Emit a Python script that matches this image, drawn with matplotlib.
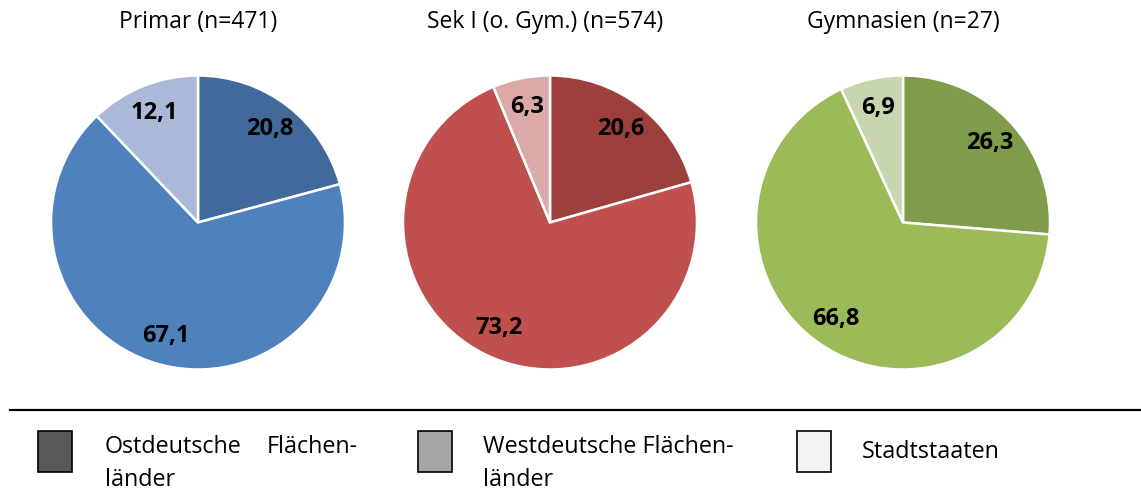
import matplotlib
matplotlib.use("Agg")
import matplotlib.pyplot as plt
from matplotlib.patches import Rectangle
from matplotlib.lines import Line2D

plt.rcParams['font.family'] = ['Open Sans', 'DejaVu Sans']

titles = ["Primar (n=471)", "Sek I (o. Gym.) (n=574)", "Gymnasien (n=27)"]
categories = ["Ostdeutsche Flächenländer", "Westdeutsche Flächenländer", "Stadtstaaten"]
primar = [20.8, 67.1, 12.1]
sek1 = [20.6, 73.2, 6.3]
gym = [26.3, 66.8, 6.9]
series = [primar, sek1, gym]
colors = [
    ["#41699B", "#4F81BD", "#AAB9D7"],
    ["#9C3F3D", "#C0504D", "#DAA9A8"],
    ["#7F9C4A", "#9BBB59", "#C7D6AE"],
]
legend_colors = ["#595959", "#A6A6A6", "#F2F2F2"]

W, H = 1141, 490
fig = plt.figure(figsize=(W / 100, H / 100), dpi=100)

centers_x = [198, 550, 903]
cy = 222.5
r = 147
title_x = [198, 545, 903]

for i, vals in enumerate(series):
    cx = centers_x[i]
    ax = fig.add_axes([(cx - r) / W, (H - cy - r) / H, 2 * r / W, 2 * r / H])
    wedges, texts = ax.pie(
        vals, colors=colors[i], startangle=90, counterclock=False,
        labels=[f"{v:.1f}".replace(".", ",") for v in vals], labeldistance=0.8,
        wedgeprops=dict(edgecolor="white", linewidth=1.8),
        textprops=dict(fontsize=17, fontweight="bold", color="black"),
    )
    for t in texts:
        t.set_ha("center")
        t.set_va("center")
    ax.set_xlim(-1.0, 1.0)
    ax.set_ylim(-1.0, 1.0)
    ax.set_axis_off()
    fig.text(title_x[i] / W, 1 - 22 / H, titles[i], ha="center", va="center", fontsize=16.5)

# separator line
fig.add_artist(Line2D([10 / W, 1140 / W], [1 - 410 / H, 1 - 410 / H], color="black", linewidth=1.6,
                      transform=fig.transFigure))

# legend
box_x = [38, 418, 797]
for i in range(3):
    fig.add_artist(Rectangle((box_x[i] / W, 1 - 472 / H), 34 / W, 41 / H, facecolor=legend_colors[i],
                             edgecolor="black", linewidth=1.2, transform=fig.transFigure))

fs = 16.8
y1 = 1 - 447 / H
y2 = 1 - 480 / H
fig.text(105 / W, y1, "Ostdeutsche", ha="left", va="center", fontsize=fs)
fig.text(358 / W, y1, "Flächen-", ha="right", va="center", fontsize=fs)
fig.text(105 / W, y2, "länder", ha="left", va="center", fontsize=fs)
fig.text(483 / W, y1, "Westdeutsche Flächen-", ha="left", va="center", fontsize=fs)
fig.text(483 / W, y2, "länder", ha="left", va="center", fontsize=fs)
fig.text(862 / W, 1 - 452 / H, "Stadtstaaten", ha="left", va="center", fontsize=fs)

fig.savefig("out.png", dpi=100)
